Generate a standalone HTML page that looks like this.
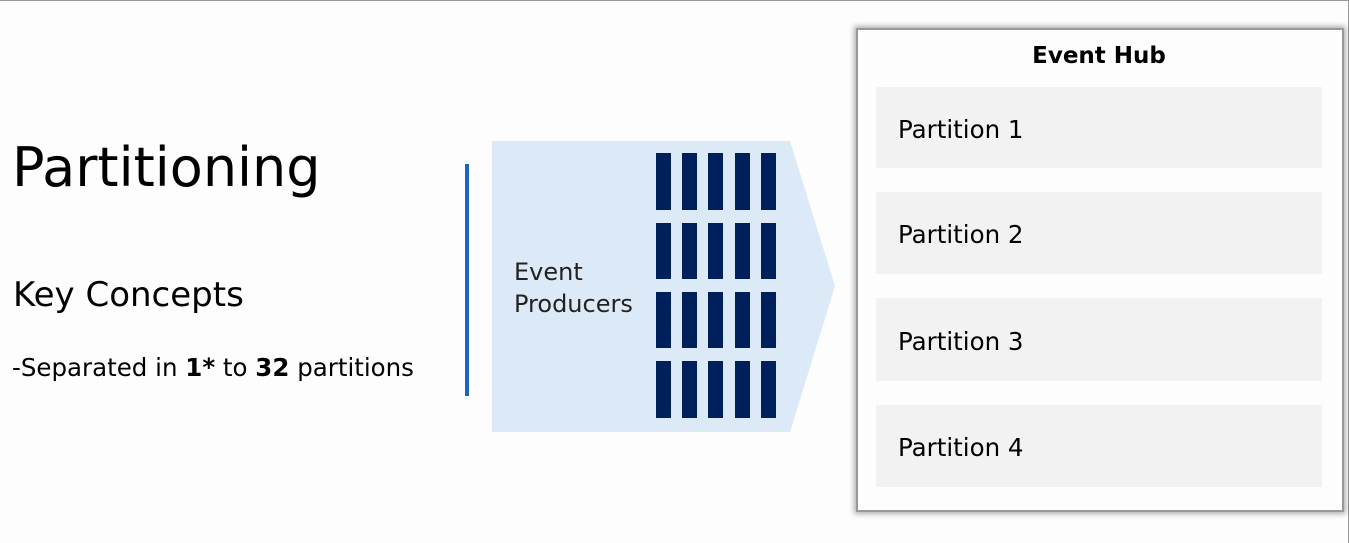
<!DOCTYPE html>
<html><head><style>
body{margin:0;width:1349px;height:543px;background:#fdfdfd;position:relative;overflow:hidden;font-family:"DejaVu Sans","Liberation Sans",sans-serif;color:#000}
.a{position:absolute}
.p{position:absolute;left:876px;width:446px;background:#f2f2f2;font-size:24.5px;line-height:1}
.p span{position:absolute;left:22px;top:50%;transform:translateY(-40%)}
</style></head><body>
<div class="a" style="left:0;top:0;width:1348px;height:542px;border-top:1px solid #999;border-right:1px solid #999"></div>
<div class="a" style="left:12px;top:136px;font-size:54px">Partitioning</div>
<div class="a" style="left:13px;top:275px;font-size:34px">Key Concepts</div>
<div class="a" style="left:12px;top:353px;font-size:24.5px">-Separated in <b>1*</b> to <b>32</b> partitions</div>
<div class="a" style="left:465px;top:164px;width:4px;height:232px;background:#1a66c2"></div>
<svg class="a" style="left:0;top:0" width="1349" height="543">
<polygon points="492,141 790,141 835,286 790,432 492,432" fill="#dce9f6"/>
<g fill="#00205b">
<rect x="656" y="153" width="15" height="57"/><rect x="682" y="153" width="15" height="57"/><rect x="708" y="153" width="15" height="57"/><rect x="735" y="153" width="15" height="57"/><rect x="761" y="153" width="15" height="57"/>
<rect x="656" y="223" width="15" height="56"/><rect x="682" y="223" width="15" height="56"/><rect x="708" y="223" width="15" height="56"/><rect x="735" y="223" width="15" height="56"/><rect x="761" y="223" width="15" height="56"/>
<rect x="656" y="292" width="15" height="56"/><rect x="682" y="292" width="15" height="56"/><rect x="708" y="292" width="15" height="56"/><rect x="735" y="292" width="15" height="56"/><rect x="761" y="292" width="15" height="56"/>
<rect x="656" y="361" width="15" height="57"/><rect x="682" y="361" width="15" height="57"/><rect x="708" y="361" width="15" height="57"/><rect x="735" y="361" width="15" height="57"/><rect x="761" y="361" width="15" height="57"/>
</g>
</svg>
<div class="a" style="left:514px;top:256px;font-size:24px;line-height:32px;color:#222">Event<br>Producers</div>
<div class="a" style="left:856px;top:28px;width:484px;height:480px;border:2px solid #999;box-shadow:0 0 5px 2px rgba(0,0,0,0.3);background:#fdfdfd"></div>
<div class="a" style="left:857px;top:43px;width:484px;text-align:center;font-size:23px;font-weight:bold">Event Hub</div>
<div class="p" style="top:87px;height:81px"><span>Partition 1</span></div>
<div class="p" style="top:192px;height:82px"><span>Partition 2</span></div>
<div class="p" style="top:298px;height:83px"><span>Partition 3</span></div>
<div class="p" style="top:405px;height:82px"><span>Partition 4</span></div>
</body></html>
